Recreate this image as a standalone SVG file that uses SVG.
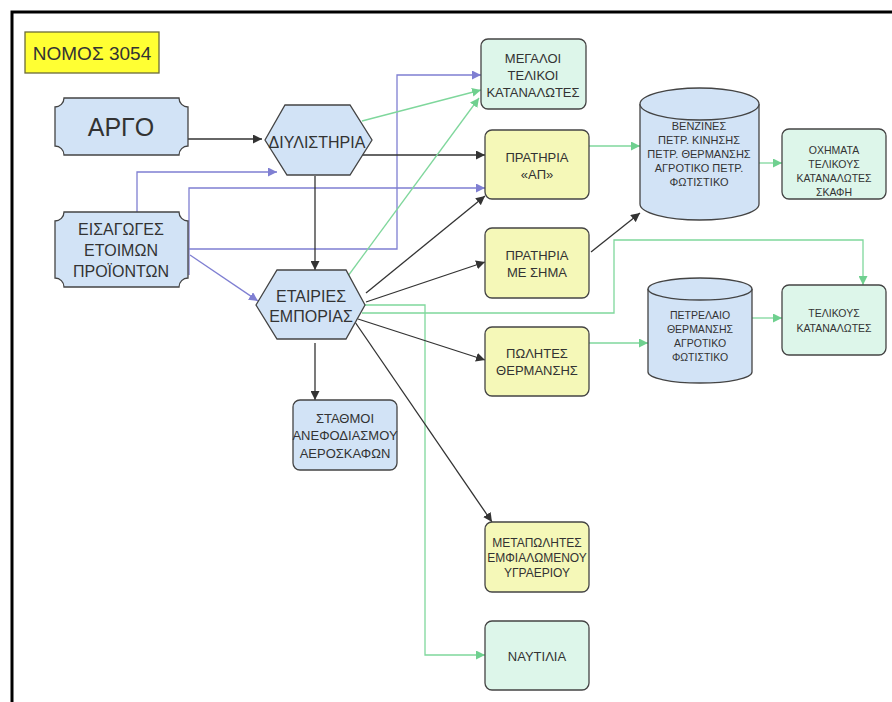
<svg xmlns="http://www.w3.org/2000/svg" width="892" height="702" viewBox="0 0 892 702">
<style>
text{font-family:"Liberation Sans",Arial,sans-serif;fill:#333;text-anchor:middle}
.blue{fill:#d2e3f6;stroke:#444;stroke-width:1.3}
.green{fill:#ddf6ea;stroke:#444;stroke-width:1.3}
.yel{fill:#f5f8b8;stroke:#444;stroke-width:1.3}
.k{fill:none;stroke:#333;stroke-width:1.3}
.p{fill:none;stroke:#7f7fd2;stroke-width:1.3}
.g{fill:none;stroke:#7fd79c;stroke-width:1.3}
</style>
<defs>
<marker id="ak" viewBox="0 0 10 10" refX="10" refY="5" markerWidth="9" markerHeight="9" markerUnits="userSpaceOnUse" orient="auto"><path d="M0,0L10,5L0,10z" fill="#333"/></marker>
<marker id="ap" viewBox="0 0 10 10" refX="10" refY="5" markerWidth="9" markerHeight="9" markerUnits="userSpaceOnUse" orient="auto"><path d="M0,0L10,5L0,10z" fill="#7f7fd2"/></marker>
<marker id="ag" viewBox="0 0 10 10" refX="10" refY="5" markerWidth="9" markerHeight="9" markerUnits="userSpaceOnUse" orient="auto"><path d="M0,0L10,5L0,10z" fill="#6fd08f"/></marker>
</defs>
<rect width="892" height="702" fill="#fff"/>
<path d="M12,702V12H892" fill="none" stroke="#000" stroke-width="3"/>

<g id="connectors">
<path class="k" d="M188,139H262" marker-end="url(#ak)"/>
<path class="p" d="M137,212V172H277" marker-end="url(#ap)"/>
<path class="p" d="M189,275V188H485" marker-end="url(#ap)"/>
<path class="p" d="M189,249H397V75H481" marker-end="url(#ap)"/>
<path class="p" d="M190,255L258,301" marker-end="url(#ap)"/>
<path class="g" d="M362,121L481,90" marker-end="url(#ag)"/>
<path class="k" d="M360,155H485" marker-end="url(#ak)"/>
<path class="k" d="M315,176V270" marker-end="url(#ak)"/>
<path class="g" d="M348,276L479,98" marker-end="url(#ag)"/>
<path class="k" d="M366,293L485,196" marker-end="url(#ak)"/>
<path class="k" d="M366,302L485,262" marker-end="url(#ak)"/>
<path class="g" d="M362,313H614V240H863V285" marker-end="url(#ag)"/>
<path class="g" d="M363,305H425V655H485" marker-end="url(#ag)"/>
<path class="k" d="M358,319L485,360" marker-end="url(#ak)"/>
<path class="k" d="M355,322L492,522" marker-end="url(#ak)"/>
<path class="k" d="M315,343V400" marker-end="url(#ak)"/>
<path class="g" d="M589,146H640" marker-end="url(#ag)"/>
<path class="k" d="M591,252L640,213" marker-end="url(#ak)"/>
<path class="g" d="M759,163H782" marker-end="url(#ag)"/>
<path class="g" d="M589,343H648" marker-end="url(#ag)"/>
<path class="g" d="M752,318H782" marker-end="url(#ag)"/>
</g>

<g id="nomos">
<rect x="25" y="32" width="134" height="41" fill="#ffff33" stroke="#6b6b3a" stroke-width="1.3"/>
<text x="92" y="60" font-size="19">ΝΟΜΟΣ 3054</text>
</g>

<g id="argo">
<path class="blue" d="M64,98H179A9,9 0 0 0 188,107V146A9,9 0 0 0 179,155H64A9,9 0 0 0 55,146V107A9,9 0 0 0 64,98Z"/>
<text x="121" y="136" font-size="25">ΑΡΓΟ</text>
</g>

<g id="eisagoges">
<path class="blue" d="M64,212H179A9,9 0 0 0 188,221V278A9,9 0 0 0 179,287H64A9,9 0 0 0 55,278V221A9,9 0 0 0 64,212Z"/>
<text x="121" y="235" font-size="16">ΕΙΣΑΓΩΓΕΣ</text>
<text x="121" y="256" font-size="16">ΕΤΟΙΜΩΝ</text>
<text x="121" y="277" font-size="16">ΠΡΟΪΟΝΤΩΝ</text>
</g>

<g id="diylistiria">
<path class="blue" d="M265,140L285,105H350L372,140L350,175H287Z"/>
<text x="317" y="148" font-size="16">ΔΙΥΛΙΣΤΗΡΙΑ</text>
</g>

<g id="etairies">
<path class="blue" d="M256,305L277,270H346L365,305L346,339H277Z"/>
<text x="311" y="302" font-size="16">ΕΤΑΙΡΙΕΣ</text>
<text x="311" y="322" font-size="16">ΕΜΠΟΡΙΑΣ</text>
</g>

<g id="stathmoi">
<rect class="blue" x="293" y="400" width="104" height="70" rx="7"/>
<text x="345" y="423" font-size="13">ΣΤΑΘΜΟΙ</text>
<text x="345" y="440" font-size="13">ΑΝΕΦΟΔΙΑΣΜΟΥ</text>
<text x="345" y="458" font-size="13">ΑΕΡΟΣΚΑΦΩΝ</text>
</g>

<g id="megaloi">
<rect class="green" x="481" y="39" width="105" height="70" rx="7"/>
<text x="533" y="63" font-size="13">ΜΕΓΑΛΟΙ</text>
<text x="533" y="80" font-size="13">ΤΕΛΙΚΟΙ</text>
<text x="533" y="97" font-size="13">ΚΑΤΑΝΑΛΩΤΕΣ</text>
</g>

<g id="pratiria-ap">
<rect class="yel" x="485" y="130" width="104" height="69" rx="7"/>
<text x="537" y="162" font-size="13">ΠΡΑΤΗΡΙΑ</text>
<text x="537" y="179" font-size="13">«ΑΠ»</text>
</g>

<g id="pratiria-sima">
<rect class="yel" x="485" y="228" width="104" height="70" rx="7"/>
<text x="537" y="260" font-size="13">ΠΡΑΤΗΡΙΑ</text>
<text x="537" y="277" font-size="13">ΜΕ ΣΗΜΑ</text>
</g>

<g id="polites">
<rect class="yel" x="485" y="327" width="104" height="69" rx="7"/>
<text x="537" y="358" font-size="13">ΠΩΛΗΤΕΣ</text>
<text x="537" y="375" font-size="13">ΘΕΡΜΑΝΣΗΣ</text>
</g>

<g id="metapolites">
<rect class="yel" x="485" y="522" width="104" height="70" rx="7"/>
<text x="537" y="547" font-size="12">ΜΕΤΑΠΩΛΗΤΕΣ</text>
<text x="537" y="562" font-size="12">ΕΜΦΙΑΛΩΜΕΝΟΥ</text>
<text x="537" y="577" font-size="12">ΥΓΡΑΕΡΙΟΥ</text>
</g>

<g id="naftilia">
<rect class="green" x="485" y="621" width="104" height="69" rx="7"/>
<text x="537" y="661" font-size="13">ΝΑΥΤΙΛΙΑ</text>
</g>

<g id="venzines">
<path class="blue" d="M640,104V204A59.5,16 0 0 0 759,204V104"/>
<ellipse class="blue" cx="699.5" cy="104" rx="59.5" ry="16"/>
<text x="699" y="130" font-size="11">ΒΕΝΖΙΝΕΣ</text>
<text x="699" y="144" font-size="11">ΠΕΤΡ. ΚΙΝΗΣΗΣ</text>
<text x="699" y="158" font-size="11">ΠΕΤΡ. ΘΕΡΜΑΝΣΗΣ</text>
<text x="699" y="172" font-size="11">ΑΓΡΟΤΙΚΟ ΠΕΤΡ.</text>
<text x="699" y="186" font-size="11">ΦΩΤΙΣΤΙΚΟ</text>
</g>

<g id="oximata">
<rect class="green" x="782" y="129" width="104" height="70" rx="7"/>
<text x="834" y="154" font-size="10.5">ΟΧΗΜΑΤΑ</text>
<text x="834" y="168" font-size="10.5">ΤΕΛΙΚΟΥΣ</text>
<text x="834" y="182" font-size="10.5">ΚΑΤΑΝΑΛΩΤΕΣ</text>
<text x="834" y="196" font-size="10.5">ΣΚΑΦΗ</text>
</g>

<g id="petrelaio">
<path class="blue" d="M648,289V372A52,11 0 0 0 752,372V289"/>
<ellipse class="blue" cx="700" cy="289" rx="52" ry="11"/>
<text x="700" y="319" font-size="10.5">ΠΕΤΡΕΛΑΙΟ</text>
<text x="700" y="333" font-size="10.5">ΘΕΡΜΑΝΣΗΣ</text>
<text x="700" y="347" font-size="10.5">ΑΓΡΟΤΙΚΟ</text>
<text x="700" y="361" font-size="10.5">ΦΩΤΙΣΤΙΚΟ</text>
</g>

<g id="telikous">
<rect class="green" x="782" y="285" width="104" height="70" rx="7"/>
<text x="834" y="317" font-size="10.5">ΤΕΛΙΚΟΥΣ</text>
<text x="834" y="332" font-size="10.5">ΚΑΤΑΝΑΛΩΤΕΣ</text>
</g>
</svg>
